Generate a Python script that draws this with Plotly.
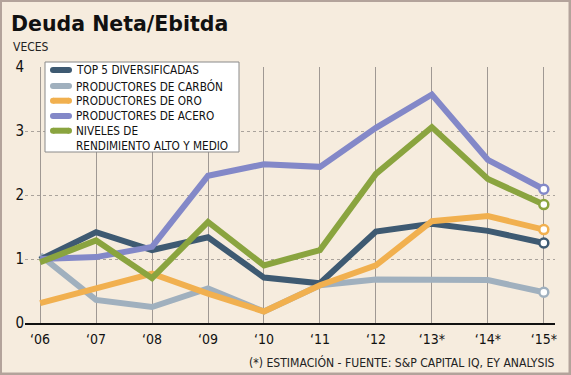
import plotly.graph_objects as go

years = ["‘06", "‘07", "‘08", "‘09", "‘10", "‘11", "‘12", "‘13*", "‘14*", "‘15*"]
series_names = ["TOP 5 DIVERSIFICADAS", "PRODUCTORES DE CARBÓN", "PRODUCTORES DE ORO",
                "PRODUCTORES DE ACERO", "NIVELES DE<br>RENDIMIENTO ALTO Y MEDIO"]
top5 = [0.99, 1.42, 1.14, 1.34, 0.71, 0.62, 1.43, 1.55, 1.44, 1.25]
carbon = [1.06, 0.36, 0.25, 0.54, 0.18, 0.59, 0.68, 0.68, 0.67, 0.48]
oro = [0.31, 0.54, 0.77, 0.46, 0.18, 0.59, 0.90, 1.59, 1.67, 1.46]
acero = [1.00, 1.03, 1.19, 2.30, 2.48, 2.44, 3.05, 3.57, 2.55, 2.09]
niveles = [0.95, 1.29, 0.70, 1.58, 0.90, 1.14, 2.33, 3.06, 2.25, 1.85]
y_ticks = [0, 1, 2, 3, 4]

series_colors = ["#3e5a72", "#a0b0be", "#f1b04f", "#8388c8", "#8aa43f"]
series_values = [top5, carbon, oro, acero, niveles]
draw_order = [1, 0, 3, 2, 4]  # bottom -> top

FONT = "DejaVu Sans Condensed, Liberation Sans, sans-serif"
BG = "#f6ecde"

fig = go.Figure()
for i in draw_order:
    fig.add_trace(go.Scatter(
        x=years, y=series_values[i], mode="lines", name=series_names[i],
        line=dict(color=series_colors[i], width=6), showlegend=False,
        hoverinfo="skip"))
for i in draw_order:
    fig.add_trace(go.Scatter(
        x=[years[-1]], y=[series_values[i][-1]], mode="markers", showlegend=False,
        marker=dict(size=9, color="white", line=dict(color=series_colors[i], width=2.5)),
        cliponaxis=False, hoverinfo="skip"))

W, H = 571, 375
L, R, T, B = 25, 16, 67, 52
pw, ph = W - L - R, H - T - B

def px(x):
    return (x - L) / pw

def py(y):
    return (H - B - y) / ph

# legend layout (pixel positions of the reference)
leg_box = (45, 62, 239, 152)
leg_rows = [70, 86, 100.7, 116, 130.7]
shapes = [
    dict(type="rect", xref="paper", yref="paper", x0=px(leg_box[0]), x1=px(leg_box[2]),
         y0=py(leg_box[3]), y1=py(leg_box[1]), line=dict(color="#8a8a8a", width=1),
         fillcolor="white", layer="above"),
]
annotations = []
for i, yy in enumerate(leg_rows):
    shapes.append(dict(type="line", xref="paper", yref="paper", x0=px(53), x1=px(69),
                       y0=py(yy), y1=py(yy),
                       line=dict(color=series_colors[i], width=6), layer="above"))
    for cx in (53, 69):
        shapes.append(dict(type="circle", xref="paper", yref="paper",
                           x0=px(cx - 3), x1=px(cx + 3), y0=py(yy + 3), y1=py(yy - 3),
                           fillcolor=series_colors[i], line=dict(width=0), layer="above"))
    nlines = series_names[i].count("<br>") + 1
    yc = yy + (nlines - 1) * 15.2 / 2
    annotations.append(dict(text=series_names[i], xref="paper", yref="paper",
                            x=px(74), y=py(yc), xanchor="left", yanchor="middle",
                            align="left", showarrow=False,
                            font=dict(family=FONT, size=11.7, color="#111")))

annotations += [
    dict(text="VECES", xref="paper", yref="paper", x=px(10.5), y=py(46.5),
         xanchor="left", yanchor="middle", showarrow=False,
         font=dict(family=FONT, size=12, color="#222")),
    dict(text="(*) ESTIMACIÓN - FUENTE: S&P CAPITAL IQ, EY ANALYSIS",
         xref="paper", yref="paper", x=px(557), y=py(362.5),
         xanchor="right", yanchor="middle", showarrow=False,
         font=dict(family=FONT, size=12.1, color="#222")),
]
shapes.append(dict(type="rect", xref="paper", yref="paper", x0=px(0.5), x1=px(W - 1),
                   y0=py(H - 1), y1=py(0.5), line=dict(color="#b3a39b", width=3),
                   fillcolor="rgba(0,0,0,0)", layer="above"))

fig.update_layout(
    width=W, height=H,
    margin=dict(l=L, r=R, t=T, b=B),
    paper_bgcolor=BG, plot_bgcolor=BG,
    font=dict(family=FONT, color="#1a1a1a"),
    title=dict(text="<b>Deuda Neta/Ebitda</b>", x=11 / W, xanchor="left",
               y=1 - 24 / H, yanchor="middle",
               font=dict(family="DejaVu Sans, sans-serif", size=20.5, color="#111")),
    showlegend=False,
    hovermode=False,
    xaxis=dict(type="category", range=[-0.27, 9.2], showgrid=True,
               gridcolor="#9f9893", gridwidth=1, showline=True, linecolor="#111",
               linewidth=1.5, ticks="", tickfont=dict(size=14, color="#111"),
               ticklabelstandoff=3, zeroline=False, fixedrange=True),
    yaxis=dict(range=[0, 4], tickvals=y_ticks, showgrid=True, gridcolor="#aaa39c",
               griddash="dot", gridwidth=1, zeroline=False, showline=False,
               ticks="", tickfont=dict(size=15, color="#111"), fixedrange=True),
    annotations=annotations,
    shapes=shapes,
)

fig.write_html("out.html", config={"displayModeBar": False, "staticPlot": True},
               post_script="document.body.style.margin='0';document.body.style.overflow='hidden';")
